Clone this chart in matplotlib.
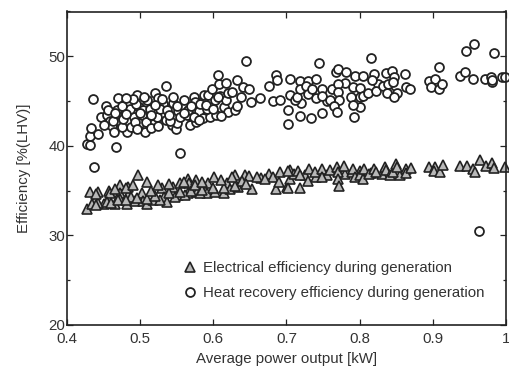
import matplotlib
matplotlib.use("Agg")
import matplotlib.pyplot as plt
from matplotlib.ticker import MultipleLocator

plt.rcParams['font.family'] = ['Liberation Sans', 'DejaVu Sans']

heat_x = [.427,.431,.431,.433,.443,.437,.436,.447,.453,.455,.459,.461,.464,.467,.470,.468,.468,.472,.482,.483,.479,.485,.488,.492,.496,.498,.500,.504,.507,.510,.511,.517,.519,.520,.525,.530,.531,.535,.535,.543,.545,.549,.551,.552,.559,.560,.567,.568,.574,.575,.576,.580,.586,.586,.587,.593,.595,.598,.598,.602,.604,.607,.608,.617,.609,.614,.617,.620,.630,.633,.633,.638,.640,.649,.645,.651,.664,.676,.681,.685,.687,.691,.702,.702,.705,.705,.555,
          .456,.463,.475,.477,.486,.493,.494,.502,.508,.514,.523,.527,.536,.541,.555,.564,.573,.582,.591,.607,.566,
          .45,.465,.475,.48,.49,.50,.505,.515,.52,.53,.54,.545,.55,.56,.57,.58,.59,.60,.61,.62,.625,.515,.525,.495,.48,.74,.755,.78,.80,.825,.84,.72,
          .718,.730,.740,.744,.712,.715,.718,.727,.730,.735,.748,.749,.762,.760,.767,.771,.770,.771,.772,.765,.769,.749,.733,.719,.781,.788,.791,.794,.800,.800,.804,.791,.792,.805,.812,.816,.819,.817,.823,.832,.836,.837,.839,.844,.847,.845,.851,.847,.862,.863,.869,.895,.903,.898,.908,.913,.908,.937,.944,.955,.946,.956,.971,.980,.981,.984,.994,.999,.981,.9627]
heat_y = [40.2,40.1,41.1,42.0,41.3,37.6,45.2,43.2,44.4,43.5,42.8,42.2,41.5,39.9,45.3,44.0,43.3,42.7,41.5,42.8,44.1,44.8,42.1,43.2,45.7,44.3,42.5,44.0,41.5,45.1,42.8,42.4,43.9,45.9,45.3,43.3,44.7,46.7,42.9,42.3,44.8,41.9,42.5,43.9,44.6,45.1,43.5,42.3,45.4,44.9,42.7,43.9,43.1,45.0,45.7,45.7,43.2,44.3,46.3,45.1,43.5,47.9,46.9,47.0,45.6,44.3,45.1,43.8,44.0,44.4,47.4,45.5,46.6,46.4,49.5,44.9,45.3,46.7,45.0,47.9,47.3,45.1,44.0,42.4,47.5,45.7,39.2,
          44.0,42.8,42.1,43.0,44.1,42.7,44.7,43.4,42.7,44.1,43.2,44.1,44.0,42.8,43.2,43.4,43.2,44.7,44.1,45.4,44.0,
          42.3,43.7,44.5,43.6,45.2,43.7,45.4,42.0,44.6,45.2,43.4,45.5,44.4,43.7,44.5,42.9,44.6,44.1,43.3,45.9,46.0,43.4,42.2,41.9,45.3,45.3,45.0,47.0,44.3,46.9,46.0,44.8,
          47.2,47.2,47.5,49.2,45.1,45.5,46.4,46.7,45.8,46.4,46.3,45.6,46.3,45.1,48.2,48.6,46.9,46.0,45.1,44.5,43.8,43.7,43.1,43.3,48.2,45.4,46.6,47.8,46.5,45.4,47.8,44.6,43.2,45.6,45.9,49.8,48.0,47.4,46.1,46.7,48.1,45.9,46.9,48.4,47.7,47.1,45.9,45.4,48.0,46.6,46.3,47.2,47.5,46.6,46.3,46.9,48.8,47.8,48.2,47.5,50.6,51.4,47.5,47.7,47.1,50.4,47.7,47.7,47.4,30.5]

elec_x = [.428,.431,.438,.443,.450,.457,.459,.466,.472,.472,.482,.484,.484,.497,.509,.502,.493,.504,.510,.518,.530,.532,.536,.545,.552,.555,.565,.567,.566,.576,.577,.593,.591,.601,.602,.614,.618,.630,.623,.634,.643,.649,.653,.639,.665,.676,.682,.685,.691,.701,.705,.705,
          .434,.443,.454,.472,.488,.527,.548,.561,.582,
          .44,.46,.47,.48,.495,.51,.52,.54,.555,.57,.585,.60,.615,.63,.645,
          .44,.465,.48,.49,.515,.525,.54,.56,.575,.585,.61,.625,.66,.67,.69,.71,.725,.74,.755,.78,.80,.815,.83,.855,
          .702,.702,.716,.719,.719,.730,.731,.739,.749,.749,.759,.769,.771,.771,.772,.779,.789,.791,.794,.800,.805,.806,.813,.819,.823,.834,.836,.841,.846,.849,.851,.863,.863,.870,.895,.903,.901,.910,.914,.937,.947,.955,.957,.964,.972,.981,.984,.999]
elec_y = [33.0,34.8,33.9,34.8,33.5,35.0,34.7,33.5,35.6,34.7,33.5,35.4,34.5,36.7,36.0,34.7,33.8,33.8,33.5,34.0,35.3,34.3,33.7,35.4,34.5,35.8,36.3,35.8,34.7,36.2,34.8,35.8,34.7,36.5,34.8,34.7,35.8,36.7,35.2,35.4,36.8,36.6,35.2,36.1,36.4,36.9,36.5,35.2,37.1,35.4,37.3,36.3,
          33.5,33.6,33.7,34.1,34.3,33.9,34.3,34.5,34.7,
          33.4,33.6,33.9,34.0,34.2,34.1,34.4,34.7,34.9,35.0,35.1,35.3,35.3,35.5,35.7,
          34.6,35.2,35.3,35.6,35.0,35.6,35.7,36.0,35.6,36.0,36.2,36.5,36.5,36.3,36.0,36.9,36.7,36.5,36.8,36.9,37.2,37.0,36.9,36.8,
          37.2,35.3,37.2,36.8,35.3,36.1,37.4,37.1,37.4,36.5,37.3,37.6,37.1,36.3,35.5,37.7,37.1,37.4,36.5,36.7,36.3,37.4,36.9,37.4,37.1,37.6,37.3,36.7,37.1,38.0,37.6,37.4,37.0,37.5,37.6,37.6,37.2,37.1,37.9,37.7,37.7,37.4,37.1,38.4,37.8,38.1,37.5,37.6]

x_ticks = [.4,.5,.6,.7,.8,.9,1.0]
x_labels = ['0.4','0.5','0.6','0.7','0.8','0.9','1']
y_ticks = [20,30,40,50]
dark = '#222222'
txt = '#333333'
fs = 10.8

fig = plt.figure(figsize=(5.10,3.67), dpi=100)
ax = fig.add_axes([67/510, 1-325/367, (506-67)/510, (325-11.5)/367])
ax.plot(elec_x, elec_y, ls='none', marker='^', ms=7.6, mfc='#b8b8b8', mec=dark, mew=1.2, clip_on=False,
        label='Electrical efficiency during generation')
ax.plot(heat_x, heat_y, ls='none', marker='o', ms=6.4, mfc='white', mec=dark, mew=1.3, clip_on=False,
        label='Heat recovery efficiency during generation')
ax.set_xlim(.4,1.0)
ax.set_ylim(20,55)
ax.set_xticks(x_ticks, x_labels)
ax.set_yticks(y_ticks)
ax.yaxis.set_minor_locator(MultipleLocator(5))
ax.tick_params(which='major', direction='in', top=True, right=True, length=4.5, width=0.9, color=dark,
               labelsize=fs, labelcolor=txt)
ax.tick_params(axis='x', which='major', pad=5)
ax.tick_params(axis='y', which='major', pad=1)
ax.tick_params(which='minor', direction='in', right=True, length=2.5, width=0.9, color=dark)
for s in ax.spines.values():
    s.set_linewidth(1.2); s.set_color(dark)
ax.set_xlabel('Average power output [kW]', fontsize=fs, color=txt, labelpad=4)
ax.set_ylabel('Efficiency [%(LHV)]', fontsize=fs, color=txt, labelpad=13)
ax.legend(loc='lower left', bbox_to_anchor=(0.263, 0.08), frameon=False, fontsize=fs,
          labelcolor=txt, handletextpad=0.37, labelspacing=0.73, borderpad=0, borderaxespad=0, handlelength=1.0)
fig.savefig('out.png', dpi=100)
